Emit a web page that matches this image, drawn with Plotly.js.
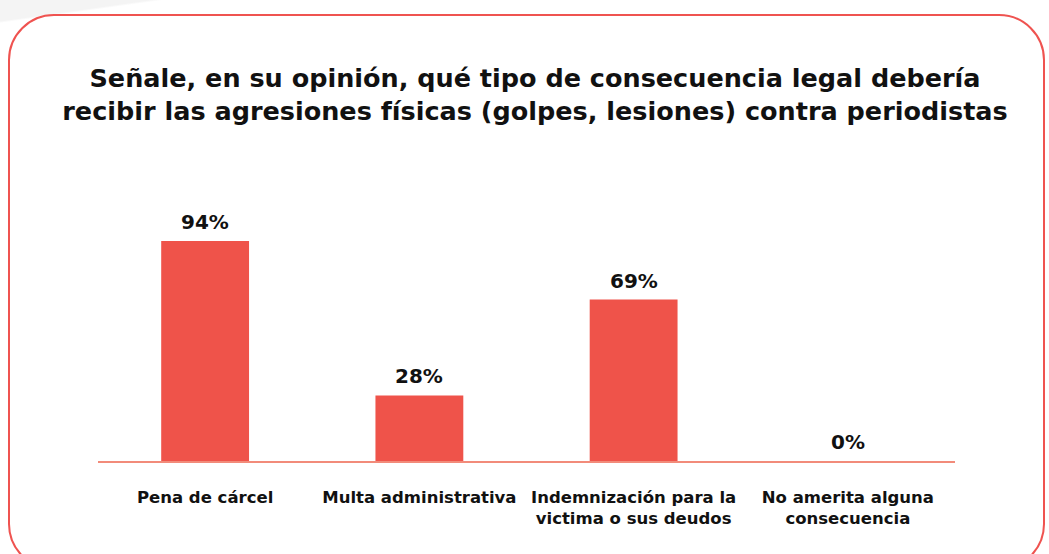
<!DOCTYPE html>
<html>
<head>
<meta charset="utf-8">
<script src="https://cdn.plot.ly/plotly-3.0.1.min.js"></script>
<style>
html,body{margin:0;padding:0;width:1049px;height:554px;overflow:hidden;background:#f4f4f4;position:relative;}
#bgw{position:absolute;left:0;top:0;width:1049px;height:554px;background:linear-gradient(172deg,#f4f4f4 0%,#f4f4f4 3%,#ffffff 3.3%,#ffffff 100%);}
#card{position:absolute;left:8px;top:14px;width:1037px;height:556px;border:2px solid #ef5350;border-radius:46px;background:#ffffff;box-sizing:border-box;}
#chart{position:absolute;left:0;top:0;width:1049px;height:554px;}
</style>
</head>
<body>
<div id="bgw"></div>
<div id="card"></div>
<div id="chart"></div>
<script>
const categories = ["Pena de cárcel", "Multa administrativa", "Indemnización para la victima o sus deudos", "No amerita alguna consecuencia"];
const tickLabels = ["Pena de cárcel", "Multa administrativa", "Indemnización para la<br>victima o sus deudos", "No amerita alguna<br>consecuencia"];
const values = [94, 28, 69, 0];
const valueLabels = values.map(v => v + "%");

const FONT = "'DejaVu Sans', sans-serif";

const trace = {
  type: "bar",
  x: categories,
  y: values,
  marker: {color: "#ef534a"},
  hoverinfo: "skip"
};

const annotations = categories.map((c, i) => ({
  x: c, y: values[i], xref: "x", yref: "y",
  text: "<b>" + valueLabels[i] + "</b>",
  showarrow: false, yanchor: "bottom", yshift: 5,
  font: {family: FONT, size: 20, color: "#111111"}
}));

const layout = {
  width: 1049, height: 554,
  paper_bgcolor: "rgba(0,0,0,0)",
  plot_bgcolor: "rgba(0,0,0,0)",
  margin: {l: 98, r: 94, t: 227, b: 93},
  bargap: 0.59,
  showlegend: false,
  title: {
    text: "<b>Señale, en su opinión, qué tipo de consecuencia legal debería<br>recibir las agresiones físicas (golpes, lesiones) contra periodistas</b>",
    font: {family: FONT, size: 25.5, color: "#111111"},
    x: 535/1049, xanchor: "center", xref: "container",
    y: 1 - 87/554, yanchor: "middle", yref: "container"
  },
  xaxis: {
    tickmode: "array", tickvals: categories, ticktext: tickLabels.map(t => "<b>" + t + "</b>"),
    showline: true, linecolor: "#f28b7a", linewidth: 2,
    ticks: "", showgrid: false, zeroline: false,
    tickfont: {family: FONT, size: 16.5, color: "#111111"},
    ticklabelstandoff: 20
  },
  yaxis: {
    range: [0, 100], visible: false, showgrid: false, zeroline: false, fixedrange: true
  },
  annotations: annotations
};

Plotly.newPlot("chart", [trace], layout, {displayModeBar: false, staticPlot: true});
</script>
</body>
</html>
